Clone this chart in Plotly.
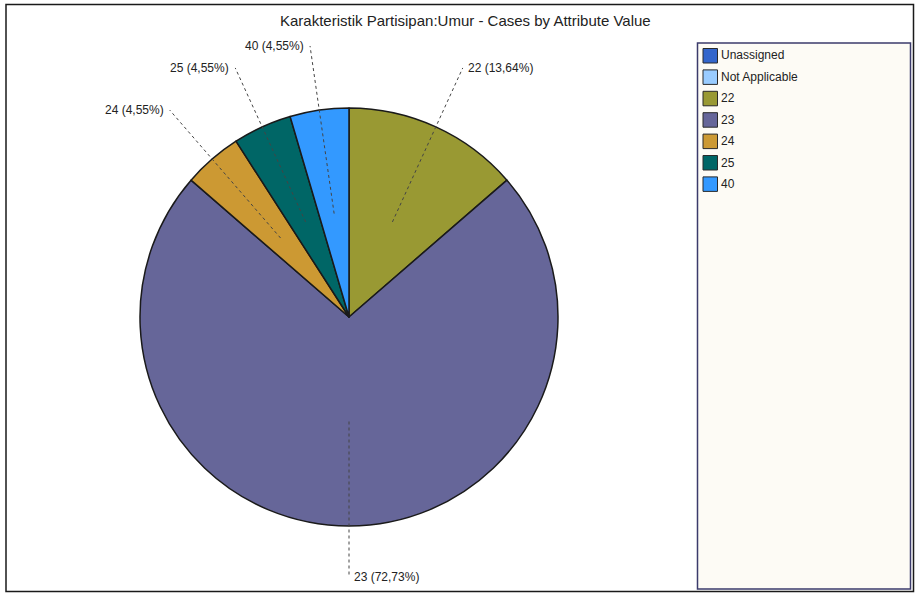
import math
import plotly.graph_objects as go

# ---- data ----
title_text = "Karakteristik Partisipan:Umur - Cases by Attribute Value"
legend_labels = ["Unassigned", "Not Applicable", "22", "23", "24", "25", "40"]
legend_colors = ["#3366CC", "#99CCFF", "#999933", "#666699", "#CC9933", "#006666", "#3399FF"]
pie_labels = ["22", "23", "24", "25", "40"]
pie_values = [3, 16, 1, 1, 1]
pie_colors = ["#999933", "#666699", "#CC9933", "#006666", "#3399FF"]

W, H = 920, 596
CX, CY, R = 349, 317, 209


def px(x, y):
    return x / W, 1 - y / H


fig = go.Figure()
x0, y1 = px(CX - R, CY - R)
x1, y0 = px(CX + R, CY + R)
fig.add_trace(go.Pie(
    labels=pie_labels, values=pie_values, sort=False, direction="clockwise",
    rotation=0, textinfo="none", hoverinfo="label+percent",
    marker=dict(colors=pie_colors, line=dict(color="#1a1a1a", width=1.5)),
    domain=dict(x=[x0, x1], y=[y0, y1]),
))

shapes = []
annotations = []

# leader lines and labels
total = sum(pie_values)
cum = 0
for lab, v in zip(pie_labels, pie_values):
    mid = (cum + v / 2) / total * 2 * math.pi
    cum += v
    s, c = math.sin(mid), math.cos(mid)
    xi, yi = CX + 0.5 * R * s, CY - 0.5 * R * c
    ro = 1.31 * R
    if CY - ro * c > 577:
        ro = (577 - CY) / (-c)
    xo, yo = CX + ro * s, CY - ro * c
    ax, ay = px(xi, yi)
    bx, by = px(xo, yo)
    shapes.append(dict(type="line", xref="paper", yref="paper", x0=ax, y0=ay, x1=bx, y1=by,
                       line=dict(color="#444444", width=1, dash="dot")))
    pct = f"{v / total * 100:.2f}".replace(".", ",")
    right = s >= -1e-9
    tx, ty = px(xo + (3 if right else -4), yo)
    annotations.append(dict(text=f"{lab} ({pct}%)", x=tx, y=ty, xref="paper", yref="paper",
                            xanchor="left" if right else "right", yanchor="middle",
                            showarrow=False, font=dict(size=12, color="#222222")))

# outer border
bx0, by0 = px(6, 4.5)
bx1, by1 = px(913.5, 591.5)
shapes.append(dict(type="rect", xref="paper", yref="paper", x0=bx0, y0=by1, x1=bx1, y1=by0,
                   line=dict(color="#1a1a1a", width=1.5), layer="below"))

# legend box
lx0, ly0 = px(697.5, 43)
lx1, ly1 = px(910.5, 589)
shapes.append(dict(type="rect", xref="paper", yref="paper", x0=lx0, y0=ly1, x1=lx1, y1=ly0,
                   fillcolor="#FDFBF5", line=dict(color="#3B3B6B", width=1.5), layer="below"))

for i, (lab, col) in enumerate(zip(legend_labels, legend_colors)):
    top = 48.5 + i * 21.4
    sx0, sy0 = px(703, top)
    sx1, sy1 = px(717.5, top + 14.5)
    shapes.append(dict(type="rect", xref="paper", yref="paper", x0=sx0, y0=sy1, x1=sx1, y1=sy0,
                       fillcolor=col, line=dict(color="#2a2a2a", width=1)))
    tx, ty = px(719, top + 7)
    annotations.append(dict(text=lab, x=tx, y=ty, xref="paper", yref="paper",
                            xanchor="left", yanchor="middle", showarrow=False,
                            font=dict(size=12, color="#222222")))

# title
tx, ty = px(465, 21)
annotations.append(dict(text=title_text, x=tx, y=ty, xref="paper", yref="paper",
                        xanchor="center", yanchor="middle", showarrow=False,
                        font=dict(size=15, color="#222222")))

fig.update_layout(
    width=W, height=H, margin=dict(l=0, r=0, t=0, b=0),
    paper_bgcolor="white", plot_bgcolor="white", showlegend=False,
    font=dict(family="Liberation Sans, Arial, sans-serif"),
    shapes=shapes, annotations=annotations,
)
fig.write_html("out.html", config={"displayModeBar": False},
               post_script="document.body.style.margin='0';document.body.style.overflow='hidden';")
